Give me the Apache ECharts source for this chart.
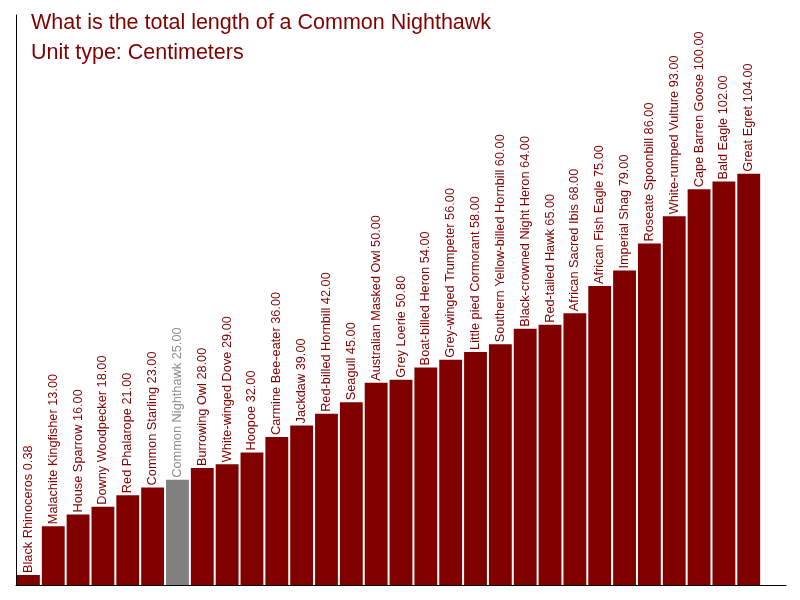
<!DOCTYPE html>
<html>
<head>
<meta charset="utf-8">
<script src="https://cdn.jsdelivr.net/npm/echarts@6/dist/echarts.min.js"></script>
<style>
    html, body { margin: 0; padding: 0; background: #fff; }
    #main { width: 800px; height: 600px; }
</style>
</head>
<body>
<div id="main"></div>
<script>
var birdNames = [
    "Black Rhinoceros", "Malachite Kingfisher", "House Sparrow", "Downy Woodpecker",
    "Red Phalarope", "Common Starling", "Common Nighthawk", "Burrowing Owl",
    "White-winged Dove", "Hoopoe", "Carmine Bee-eater", "Jackdaw",
    "Red-billed Hornbill", "Seagull", "Australian Masked Owl", "Grey Loerie",
    "Boat-billed Heron", "Grey-winged Trumpeter", "Little pied Cormorant",
    "Southern Yellow-billed Hornbill", "Black-crowned Night Heron", "Red-tailed Hawk",
    "African Sacred Ibis", "African Fish Eagle", "Imperial Shag", "Roseate Spoonbill",
    "White-rumped Vulture", "Cape Barren Goose", "Bald Eagle", "Great Egret"
];
var lengthValues = [
    0.38, 13, 16, 18, 21, 23, 25, 28, 29, 32, 36, 39, 42, 45, 50, 50.8,
    54, 56, 58, 60, 64, 65, 68, 75, 79, 86, 93, 100, 102, 104
];
var highlightName = "Common Nighthawk";

var myChart = echarts.init(document.getElementById("main"));

var barData = [];
for (var i = 0; i < birdNames.length; i++) {
    var hot = birdNames[i] == highlightName;
    barData.push({
        value: lengthValues[i],
        itemStyle: { color: hot ? "#808080" : "#800000" },
        label: { color: hot ? "#8c8c8c" : "#800000" }
    });
}

var option = {
    animation: false,
    title: {
        text: "What is the total length of a Common Nighthawk\nUnit type: Centimeters",
        left: 31,
        top: 8,
        padding: 0,
        textStyle: {
            color: "#800000",
            fontFamily: "Liberation Sans",
            fontWeight: "normal",
            fontSize: 21.5,
            lineHeight: 30
        }
    },
    grid: { left: 16, right: 14, top: 15, bottom: 15 },
    xAxis: {
        type: "category",
        data: birdNames,
        max: 30,
        axisLine: { onZero: false, lineStyle: { color: "#000", width: 1 } },
        axisTick: { show: false },
        axisLabel: { show: false }
    },
    yAxis: {
        type: "value",
        min: -2.2,
        max: 145,
        startValue: -2.2,
        splitLine: { show: false },
        axisLine: { show: true, lineStyle: { color: "#000", width: 1 } },
        axisTick: { show: false },
        axisLabel: { show: false }
    },
    series: [{
        type: "bar",
        data: barData,
        barCategoryGap: "8%",
        label: {
            show: true,
            position: "top",
            rotate: 90,
            align: "left",
            verticalAlign: "middle",
            distance: 2,
            fontFamily: "Liberation Sans",
            fontSize: 12.75,
            formatter: function (p) {
                return birdNames[p.dataIndex] + " " + lengthValues[p.dataIndex].toFixed(2);
            }
        }
    }]
};
myChart.setOption(option);
</script>
</body>
</html>
